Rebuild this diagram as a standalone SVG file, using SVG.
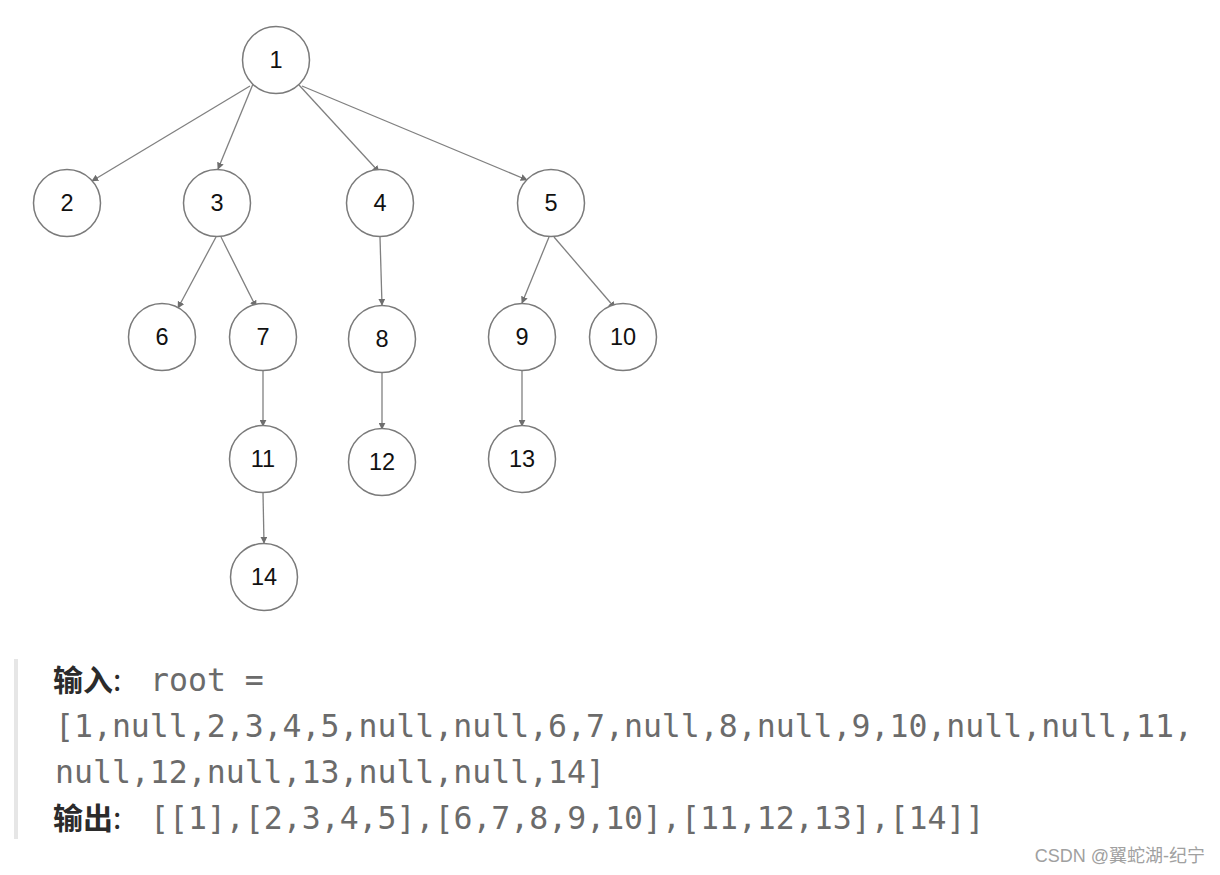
<svg xmlns="http://www.w3.org/2000/svg" width="1220" height="875" viewBox="0 0 1220 875">
<style>
.n circle{fill:#fff;stroke:#7a7a7a;stroke-width:1.5}
.n text{font-family:"Liberation Sans",Arial,sans-serif;font-size:23.5px;fill:#111;text-anchor:middle}
.e line{stroke:#808080;stroke-width:1.3;marker-end:url(#ah)}
.mono{font-family:"DejaVu Sans Mono",monospace;font-size:31.5px;fill:#6b6b6b}
.cn{font-family:"Noto Sans CJK SC",sans-serif;font-size:30px;font-weight:bold;fill:#2b2b2b}
</style>
<defs>
<marker id="ah" viewBox="0 0 10 10" refX="9" refY="5" markerWidth="7" markerHeight="7" orient="auto" markerUnits="userSpaceOnUse">
<path d="M0,0 L10,5 L0,10 Z" fill="#6e6e6e"/>
</marker>
</defs>
<rect width="1220" height="875" fill="#fff"/>
<g id="edges" class="e">
<line x1="250" y1="86" x2="92" y2="181"/>
<line x1="253" y1="84" x2="218" y2="169"/>
<line x1="299" y1="85" x2="379" y2="172"/>
<line x1="302" y1="86" x2="527" y2="180"/>
<line x1="216" y1="237" x2="178" y2="308"/>
<line x1="221" y1="237" x2="256" y2="307"/>
<line x1="380" y1="237" x2="382" y2="305"/>
<line x1="549" y1="237" x2="522" y2="303"/>
<line x1="554" y1="237" x2="615" y2="308"/>
<line x1="263" y1="371" x2="263" y2="426"/>
<line x1="382" y1="372" x2="382" y2="429"/>
<line x1="522" y1="370" x2="522" y2="426"/>
<line x1="263" y1="493" x2="264" y2="543"/>
</g>
<g id="n1" class="n"><circle cx="276" cy="60" r="33.5"/><text x="276" y="68">1</text></g>
<g id="n2" class="n"><circle cx="67" cy="203" r="33.5"/><text x="67" y="211">2</text></g>
<g id="n3" class="n"><circle cx="217" cy="203" r="33.5"/><text x="217" y="211">3</text></g>
<g id="n4" class="n"><circle cx="380" cy="203" r="33.5"/><text x="380" y="211">4</text></g>
<g id="n5" class="n"><circle cx="551" cy="203" r="33.5"/><text x="551" y="211">5</text></g>
<g id="n6" class="n"><circle cx="162" cy="337" r="33.5"/><text x="162" y="345">6</text></g>
<g id="n7" class="n"><circle cx="263" cy="337" r="33.5"/><text x="263" y="345">7</text></g>
<g id="n8" class="n"><circle cx="382" cy="339" r="33.5"/><text x="382" y="347">8</text></g>
<g id="n9" class="n"><circle cx="522" cy="337" r="33.5"/><text x="522" y="345">9</text></g>
<g id="n10" class="n"><circle cx="623" cy="337" r="33.5"/><text x="623" y="345">10</text></g>
<g id="n11" class="n"><circle cx="263" cy="459" r="33.5"/><text x="263" y="467">11</text></g>
<g id="n12" class="n"><circle cx="382" cy="462" r="33.5"/><text x="382" y="470">12</text></g>
<g id="n13" class="n"><circle cx="522" cy="459" r="33.5"/><text x="522" y="467">13</text></g>
<g id="n14" class="n"><circle cx="264" cy="577" r="33.5"/><text x="264" y="585">14</text></g>
<g id="example">
<rect x="14" y="659" width="4" height="180" fill="#e6e6e6"/>
<text x="53" y="691" class="cn">输入<tspan font-weight="normal">:</tspan></text>
<text x="150" y="691" class="mono">root =</text>
<text x="55" y="737" class="mono">[1,null,2,3,4,5,null,null,6,7,null,8,null,9,10,null,null,11,</text>
<text x="55" y="783" class="mono">null,12,null,13,null,null,14]</text>
<text x="53" y="829" class="cn">输出<tspan font-weight="normal">:</tspan></text>
<text x="150" y="829" class="mono">[[1],[2,3,4,5],[6,7,8,9,10],[11,12,13],[14]]</text>
</g>
<text x="1205" y="862" text-anchor="end" style="font-family:'Liberation Sans','Noto Sans CJK SC',sans-serif;font-size:18px;fill:#a0a0a0">CSDN @翼蛇湖-纪宁</text>
</svg>
